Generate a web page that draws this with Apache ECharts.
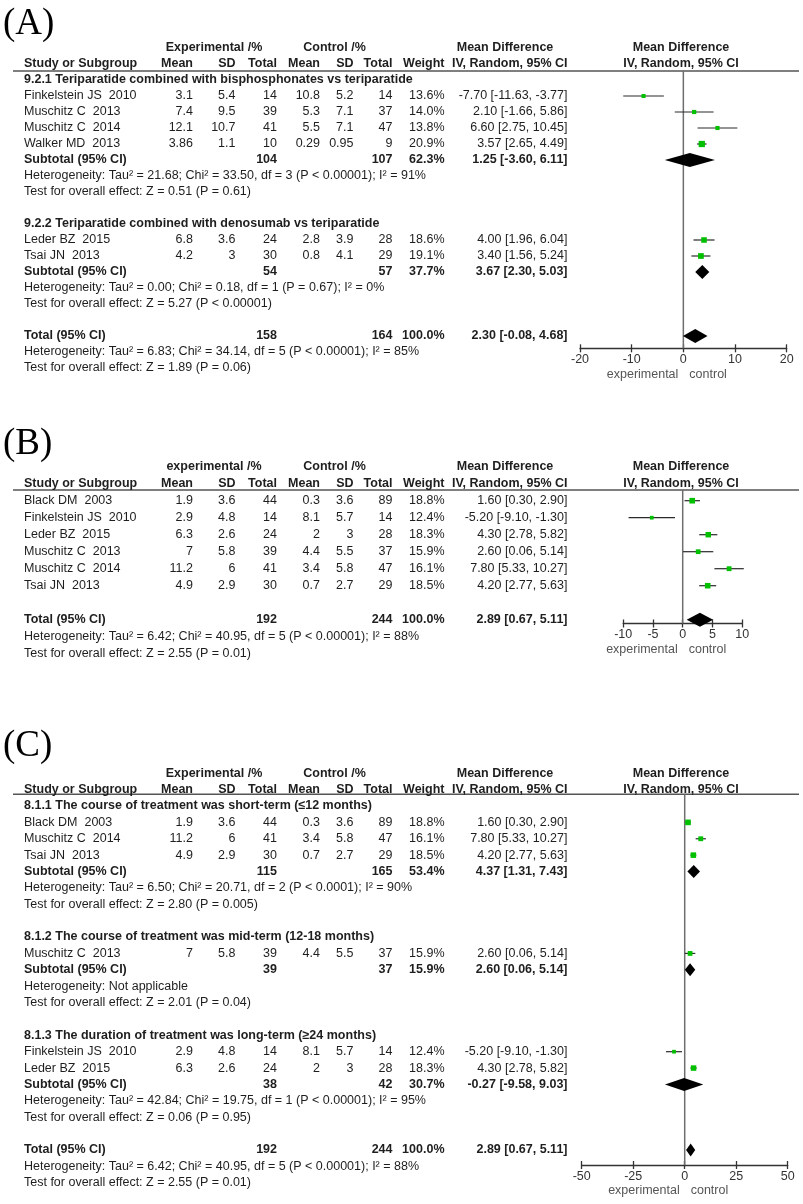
<!DOCTYPE html>
<html><head><meta charset="utf-8">
<script src="https://cdn.jsdelivr.net/npm/echarts@6/dist/echarts.min.js"></script>
<style>html,body{margin:0;padding:0;background:#fff}#c{width:803px;height:1204px}</style>
</head><body><div id="c"></div>
<script>
// ================= DATA =================
// ---- Panel A ----
const A_subgroups = ['9.2.1 Teriparatide combined with bisphosphonates vs teriparatide',
                     '9.2.2 Teriparatide combined with denosumab vs teriparatide'];
const A_studies = ['Finkelstein JS  2010','Muschitz C  2013','Muschitz C  2014','Walker MD  2013','Leder BZ  2015','Tsai JN  2013'];
const A_studyGroup = [0,0,0,0,1,1];
const A_expMean = [3.1,7.4,12.1,3.86,6.8,4.2];
const A_expSD   = [5.4,9.5,10.7,1.1,3.6,3];
const A_expN    = [14,39,41,10,24,30];
const A_ctlMean = [10.8,5.3,5.5,0.29,2.8,0.8];
const A_ctlSD   = [5.2,7.1,7.1,0.95,3.9,4.1];
const A_ctlN    = [14,37,47,9,28,29];
const A_weight  = [13.6,14.0,13.8,20.9,18.6,19.1];
const A_md      = [-7.70,2.10,6.60,3.57,4.00,3.40];
const A_lo      = [-11.63,-1.66,2.75,2.65,1.96,1.56];
const A_hi      = [-3.77,5.86,10.45,4.49,6.04,5.24];
const A_subExpN = [104,54];
const A_subCtlN = [107,57];
const A_subWeight = [62.3,37.7];
const A_subMd = [1.25,3.67];
const A_subLo = [-3.60,2.30];
const A_subHi = [6.11,5.03];
const A_subHet = ['Heterogeneity: Tau² = 21.68; Chi² = 33.50, df = 3 (P < 0.00001); I² = 91%',
                  'Heterogeneity: Tau² = 0.00; Chi² = 0.18, df = 1 (P = 0.67); I² = 0%'];
const A_subTest = ['Test for overall effect: Z = 0.51 (P = 0.61)','Test for overall effect: Z = 5.27 (P < 0.00001)'];
const A_total = [158,164,100.0,2.30,-0.08,4.68]; // expN, ctlN, weight, md, lo, hi
const A_totalHet = 'Heterogeneity: Tau² = 6.83; Chi² = 34.14, df = 5 (P < 0.00001); I² = 85%';
const A_totalTest = 'Test for overall effect: Z = 1.89 (P = 0.06)';
const A_ticks = [-20,-10,0,10,20];

// ---- Panel B ----
const B_studies = ['Black DM  2003','Finkelstein JS  2010','Leder BZ  2015','Muschitz C  2013','Muschitz C  2014','Tsai JN  2013'];
const B_expMean = [1.9,2.9,6.3,7,11.2,4.9];
const B_expSD   = [3.6,4.8,2.6,5.8,6,2.9];
const B_expN    = [44,14,24,39,41,30];
const B_ctlMean = [0.3,8.1,2,4.4,3.4,0.7];
const B_ctlSD   = [3.6,5.7,3,5.5,5.8,2.7];
const B_ctlN    = [89,14,28,37,47,29];
const B_weight  = [18.8,12.4,18.3,15.9,16.1,18.5];
const B_md      = [1.60,-5.20,4.30,2.60,7.80,4.20];
const B_lo      = [0.30,-9.10,2.78,0.06,5.33,2.77];
const B_hi      = [2.90,-1.30,5.82,5.14,10.27,5.63];
const B_total = [192,244,100.0,2.89,0.67,5.11];
const B_totalHet = 'Heterogeneity: Tau² = 6.42; Chi² = 40.95, df = 5 (P < 0.00001); I² = 88%';
const B_totalTest = 'Test for overall effect: Z = 2.55 (P = 0.01)';
const B_ticks = [-10,-5,0,5,10];

// ---- Panel C ----
const C_subgroups = ['8.1.1 The course of treatment was short-term (≤12 months)',
                     '8.1.2 The course of treatment was mid-term (12-18 months)',
                     '8.1.3 The duration of treatment was long-term (≥24 months)'];
const C_studies = ['Black DM  2003','Muschitz C  2014','Tsai JN  2013','Muschitz C  2013','Finkelstein JS  2010','Leder BZ  2015'];
const C_studyGroup = [0,0,0,1,2,2];
const C_expMean = [1.9,11.2,4.9,7,2.9,6.3];
const C_expSD   = [3.6,6,2.9,5.8,4.8,2.6];
const C_expN    = [44,41,30,39,14,24];
const C_ctlMean = [0.3,3.4,0.7,4.4,8.1,2];
const C_ctlSD   = [3.6,5.8,2.7,5.5,5.7,3];
const C_ctlN    = [89,47,29,37,14,28];
const C_weight  = [18.8,16.1,18.5,15.9,12.4,18.3];
const C_md      = [1.60,7.80,4.20,2.60,-5.20,4.30];
const C_lo      = [0.30,5.33,2.77,0.06,-9.10,2.78];
const C_hi      = [2.90,10.27,5.63,5.14,-1.30,5.82];
const C_subExpN = [115,39,38];
const C_subCtlN = [165,37,42];
const C_subWeight = [53.4,15.9,30.7];
const C_subMd = [4.37,2.60,-0.27];
const C_subLo = [1.31,0.06,-9.58];
const C_subHi = [7.43,5.14,9.03];
const C_subHet = ['Heterogeneity: Tau² = 6.50; Chi² = 20.71, df = 2 (P < 0.0001); I² = 90%',
                  'Heterogeneity: Not applicable',
                  'Heterogeneity: Tau² = 42.84; Chi² = 19.75, df = 1 (P < 0.00001); I² = 95%'];
const C_subTest = ['Test for overall effect: Z = 2.80 (P = 0.005)','Test for overall effect: Z = 2.01 (P = 0.04)',
                   'Test for overall effect: Z = 0.06 (P = 0.95)'];
const C_total = [192,244,100.0,2.89,0.67,5.11];
const C_totalHet = 'Heterogeneity: Tau² = 6.42; Chi² = 40.95, df = 5 (P < 0.00001); I² = 88%';
const C_totalTest = 'Test for overall effect: Z = 2.55 (P = 0.01)';
const C_ticks = [-50,-25,0,25,50];

// ================= LAYOUT / STYLE =================
const FONT = '"Liberation Sans", Arial, sans-serif';
const FS = 12.5;
const TXT = '#1e1e1e';
const COL = {name:24, eMean:193, eSD:235.5, eN:277, cMean:320, cSD:353.5, cN:392.5, w:444.5, ci:567.5,
             hExp:214, hCtl:334.5, hMD:505, hForest:681, lineL:13, lineR:799};

const panels = [
  {label:'(A)', expHead:'Experimental /%', subgroups:A_subgroups, studyGroup:A_studyGroup, studies:A_studies,
   expMean:A_expMean, expSD:A_expSD, expN:A_expN, ctlMean:A_ctlMean, ctlSD:A_ctlSD, ctlN:A_ctlN,
   weight:A_weight, md:A_md, lo:A_lo, hi:A_hi,
   subExpN:A_subExpN, subCtlN:A_subCtlN, subWeight:A_subWeight, subMd:A_subMd, subLo:A_subLo, subHi:A_subHi,
   subHet:A_subHet, subTest:A_subTest, total:A_total, totalHet:A_totalHet, totalTest:A_totalTest, ticks:A_ticks,
   grid:{left:580, top:71, width:206.7, height:277.3}, firstRow:80, step:16, gap:1, labelRow:-3.48, dh:7},
  {label:'(B)', expHead:'experimental /%', subgroups:null, studies:B_studies,
   expMean:B_expMean, expSD:B_expSD, expN:B_expN, ctlMean:B_ctlMean, ctlSD:B_ctlSD, ctlN:B_ctlN,
   weight:B_weight, md:B_md, lo:B_lo, hi:B_hi,
   total:B_total, totalHet:B_totalHet, totalTest:B_totalTest, ticks:B_ticks,
   grid:{left:623.2, top:490, width:119, height:133.5}, firstRow:500.7, step:17, gap:1, labelRow:-3.32, dh:7},
  {label:'(C)', expHead:'Experimental /%', subgroups:C_subgroups, studyGroup:C_studyGroup, studies:C_studies,
   expMean:C_expMean, expSD:C_expSD, expN:C_expN, ctlMean:C_ctlMean, ctlSD:C_ctlSD, ctlN:C_ctlN,
   weight:C_weight, md:C_md, lo:C_lo, hi:C_hi,
   subExpN:C_subExpN, subCtlN:C_subCtlN, subWeight:C_subWeight, subMd:C_subMd, subLo:C_subLo, subHi:C_subHi,
   subHet:C_subHet, subTest:C_subTest, total:C_total, totalHet:C_totalHet, totalTest:C_totalTest, ticks:C_ticks,
   grid:{left:581.7, top:794.3, width:206, height:370.7}, firstRow:806, step:16.38, gap:1, labelRow:-3.67, dh:6.5}
];

function buildRows(P) {
  const rows = [{kind:'frame', pos:0}, {kind:'head1', pos:-2}, {kind:'head2', pos:-1}];
  let pos = 0;
  if (P.subgroups) {
    P.subgroups.forEach((g, gi) => {
      rows.push({kind:'group', pos:pos++, text:g});
      P.studies.forEach((s, i) => { if (P.studyGroup[i] === gi) rows.push({kind:'study', pos:pos++, i}); });
      rows.push({kind:'sub', pos:pos++, g:gi});
      rows.push({kind:'text', pos:pos++, text:P.subHet[gi]});
      rows.push({kind:'text', pos:pos++, text:P.subTest[gi]});
      pos += P.gap;
    });
  } else {
    P.studies.forEach((s, i) => rows.push({kind:'study', pos:pos++, i}));
    pos += P.gap;
  }
  rows.push({kind:'total', pos:pos++});
  rows.push({kind:'text', pos:pos++, text:P.totalHet});
  rows.push({kind:'text', pos:pos++, text:P.totalTest});
  return rows;
}

function T(text, x, y, align, bold, opts) {
  opts = opts || {};
  return {type:'text', silent:true, style:{text:String(text), x:x, y:y, align:align, verticalAlign:'middle',
    font:(bold ? 'bold ' : '') + (opts.size || FS) + 'px ' + (opts.family || FONT), fill:opts.color || TXT}};
}
const f2 = v => v.toFixed(2);
const ciText = (m, l, h) => f2(m) + ' [' + f2(l) + ', ' + f2(h) + ']';

const series = [], grids = [], xAxes = [], yAxes = [];
panels.forEach((P, pi) => {
  const rows = buildRows(P);
  const yMin = (P.grid.top - P.firstRow) / P.step;
  const yMax = (P.grid.top + P.grid.height - P.firstRow) / P.step;
  grids.push({left:P.grid.left, top:P.grid.top, width:P.grid.width, height:P.grid.height, containLabel:false});
  const tmin = P.ticks[0], tmax = P.ticks[P.ticks.length - 1], tint = P.ticks[1] - P.ticks[0];
  xAxes.push({gridIndex:pi, type:'value', position:'bottom', min:tmin, max:tmax, interval:tint,
    axisLine:{show:true, onZero:false, lineStyle:{color:'#333', width:1.3}},
    axisTick:{show:true, length:4, lineStyle:{color:'#333', width:1.3}},
    axisLabel:{show:true, color:'#333', fontSize:FS, fontFamily:FONT, margin:5, showMinLabel:true, showMaxLabel:true},
    splitLine:{show:false}});
  xAxes.push({gridIndex:pi, type:'value', position:'bottom', min:tmin, max:tmax, interval:tint,
    axisLine:{show:false, onZero:false}, axisTick:{show:true, inside:true, length:4, lineStyle:{color:'#333', width:1.3}},
    axisLabel:{show:false}, splitLine:{show:false}});
  yAxes.push({gridIndex:pi, type:'value', inverse:true, min:yMin, max:yMax, show:false});

  series.push({
    type:'custom', xAxisIndex:pi * 2, yAxisIndex:pi, clip:false, silent:true, animation:false,
    data: rows.map(r => [0, r.pos]),
    renderItem: function (params, api) {
      const r = rows[params.dataIndex];
      const yc = v => api.coord([0, v])[1];
      const xc = v => api.coord([v, 0])[0];
      const y = yc(r.pos);
      const ch = [];
      if (r.kind === 'frame') {
        const yTop = yc(yMin), yBot = yc(yMax), x0 = xc(0);
        ch.push({type:'line', silent:true, shape:{x1:COL.lineL, y1:yTop, x2:COL.lineR, y2:yTop}, style:{stroke:'#555', lineWidth:1.5}});
        ch.push({type:'line', silent:true, shape:{x1:x0, y1:yTop, x2:x0, y2:yBot}, style:{stroke:'#6e6e6e', lineWidth:1.5}});
        ch.push(T('experimental', x0 - 5, yBot + 26, 'right', false, {color:'#555'}));
        ch.push(T('control', x0 + 6, yBot + 26, 'left', false, {color:'#555'}));
        ch.push(T(P.label, 3, yc(P.labelRow), 'left', false, {size:37, family:'"Liberation Serif", "Times New Roman", serif', color:'#000'}));
      } else if (r.kind === 'head1') {
        ch.push(T(P.expHead, COL.hExp, y, 'center', true));
        ch.push(T('Control /%', COL.hCtl, y, 'center', true));
        ch.push(T('Mean Difference', COL.hMD, y, 'center', true));
        ch.push(T('Mean Difference', COL.hForest, y, 'center', true));
      } else if (r.kind === 'head2') {
        ch.push(T('Study or Subgroup', COL.name, y, 'left', true));
        ch.push(T('Mean', COL.eMean, y, 'right', true));
        ch.push(T('SD', COL.eSD, y, 'right', true));
        ch.push(T('Total', COL.eN, y, 'right', true));
        ch.push(T('Mean', COL.cMean, y, 'right', true));
        ch.push(T('SD', COL.cSD, y, 'right', true));
        ch.push(T('Total', COL.cN, y, 'right', true));
        ch.push(T('Weight', COL.w, y, 'right', true));
        ch.push(T('IV, Random, 95% CI', COL.ci, y, 'right', true));
        ch.push(T('IV, Random, 95% CI', COL.hForest, y, 'center', true));
      } else if (r.kind === 'group') {
        ch.push(T(r.text, COL.name, y, 'left', true));
      } else if (r.kind === 'text') {
        ch.push(T(r.text, COL.name, y, 'left', false));
      } else if (r.kind === 'study') {
        const i = r.i;
        ch.push(T(P.studies[i], COL.name, y, 'left', false));
        ch.push(T(P.expMean[i], COL.eMean, y, 'right', false));
        ch.push(T(P.expSD[i], COL.eSD, y, 'right', false));
        ch.push(T(P.expN[i], COL.eN, y, 'right', false));
        ch.push(T(P.ctlMean[i], COL.cMean, y, 'right', false));
        ch.push(T(P.ctlSD[i], COL.cSD, y, 'right', false));
        ch.push(T(P.ctlN[i], COL.cN, y, 'right', false));
        ch.push(T(P.weight[i].toFixed(1) + '%', COL.w, y, 'right', false));
        ch.push(T(ciText(P.md[i], P.lo[i], P.hi[i]), COL.ci, y, 'right', false));
        ch.push({type:'line', silent:true, shape:{x1:xc(P.lo[i]), y1:y, x2:xc(P.hi[i]), y2:y}, style:{stroke:'#2a2a2a', lineWidth:1.2}});
        const s = P.weight[i] * 0.3;
        ch.push({type:'rect', silent:true, shape:{x:xc(P.md[i]) - s / 2, y:y - s / 2, width:s, height:s}, style:{fill:'#00c000'}});
      } else if (r.kind === 'sub' || r.kind === 'total') {
        let v;
        if (r.kind === 'sub') { const g = r.g; v = [P.subExpN[g], P.subCtlN[g], P.subWeight[g], P.subMd[g], P.subLo[g], P.subHi[g]]; }
        else v = P.total;
        ch.push(T(r.kind === 'sub' ? 'Subtotal (95% CI)' : 'Total (95% CI)', COL.name, y, 'left', true));
        ch.push(T(v[0], COL.eN, y, 'right', true));
        ch.push(T(v[1], COL.cN, y, 'right', true));
        ch.push(T(v[2].toFixed(1) + '%', COL.w, y, 'right', true));
        ch.push(T(ciText(v[3], v[4], v[5]), COL.ci, y, 'right', true));
        const h = P.dh;
        ch.push({type:'polygon', silent:true, shape:{points:[[xc(v[4]), y], [xc(v[3]), y - h], [xc(v[5]), y], [xc(v[3]), y + h]]}, style:{fill:'#000'}});
      }
      return {type:'group', children:ch};
    }
  });
});

const chart = echarts.init(document.getElementById('c'), null, {renderer:'canvas'});
chart.setOption({
  animation:false,
  backgroundColor:'#fff',
  grid:grids, xAxis:xAxes, yAxis:yAxes, series:series
});
</script></body></html>
